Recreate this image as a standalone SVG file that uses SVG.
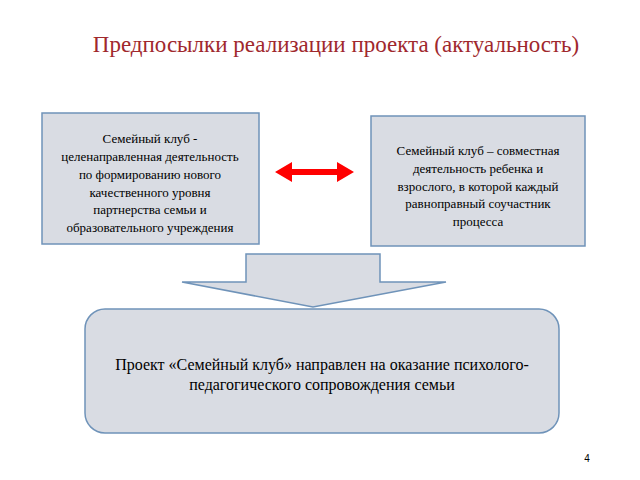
<svg xmlns="http://www.w3.org/2000/svg" width="640" height="480" viewBox="0 0 640 480">
<style>
.box{fill:#d9dce3;stroke:#6f93b9;stroke-width:1.5}
.t{font-family:"Liberation Serif",serif;font-size:13px;fill:#000;text-anchor:middle}
.b{font-family:"Liberation Serif",serif;font-size:16px;fill:#000;text-anchor:middle}
</style>
<rect width="640" height="480" fill="#fff"/>
<text x="336" y="52" font-family="Liberation Serif,serif" font-size="23" fill="#a0282d" text-anchor="middle">Предпосылки реализации проекта (актуальность)</text>
<g id="left">
<rect class="box" x="42" y="113" width="217" height="131"/>
<text class="t" x="150" y="143">Семейный клуб -</text>
<text class="t" x="150" y="161">целенаправленная деятельность</text>
<text class="t" x="150" y="179">по формированию нового</text>
<text class="t" x="150" y="197">качественного уровня</text>
<text class="t" x="150" y="214">партнерства семьи и</text>
<text class="t" x="150" y="232">образовательного учреждения</text>
</g>
<g id="right">
<rect class="box" x="371" y="116" width="214" height="130"/>
<text class="t" x="478" y="155">Семейный клуб – совместная</text>
<text class="t" x="478" y="173">деятельность ребенка и</text>
<text class="t" x="478" y="191">взрослого, в которой каждый</text>
<text class="t" x="478" y="208">равноправный соучастник</text>
<text class="t" x="478" y="226">процесса</text>
</g>
<g id="connectors">
<polygon fill="#f00" points="275,172 292,162 292,169 337,169 337,162 354,172 337,182 337,175 292,175 292,182"/>
<polygon fill="#d9dce3" stroke="#6f93b9" stroke-width="1.5" points="246,254 380,254 380,282 446,282 313,307 182,282 246,282"/>
</g>
<g id="bottom">
<rect class="box" x="85" y="309" width="474" height="124" rx="20"/>
<text class="b" x="322" y="370">Проект «Семейный клуб» направлен на оказание психолого-</text>
<text class="b" x="322" y="390">педагогического сопровождения семьи</text>
</g>
<text x="587" y="462" font-family="Liberation Sans,sans-serif" font-size="10" fill="#000" text-anchor="middle">4</text>
</svg>
